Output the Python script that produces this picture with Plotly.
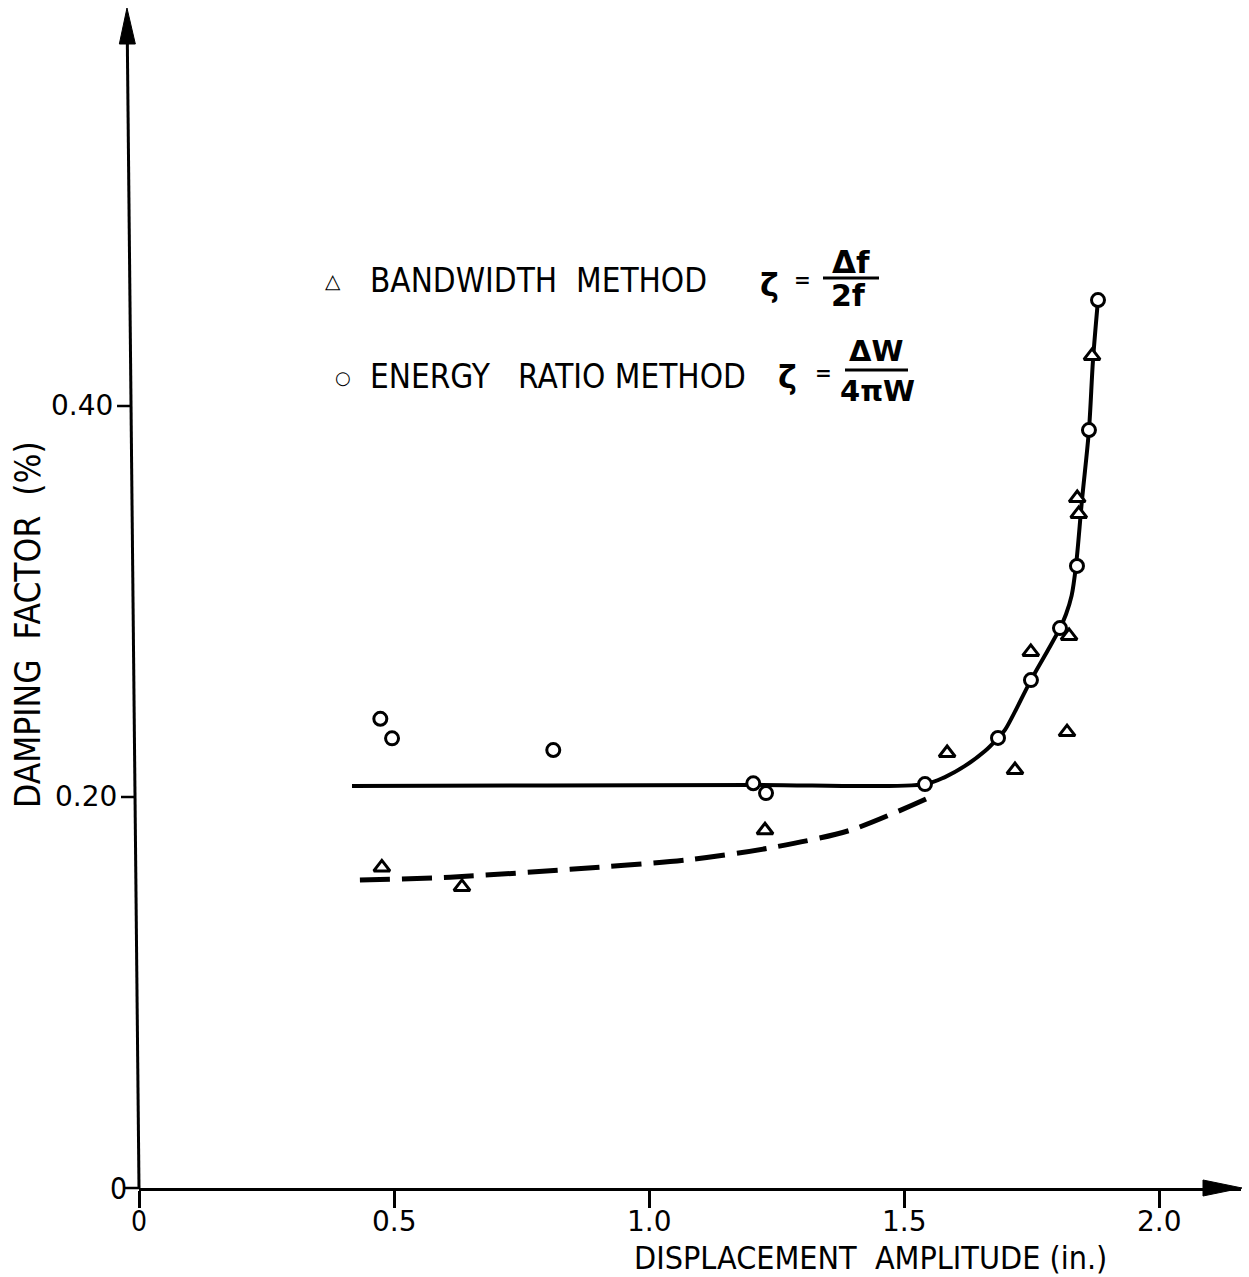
import plotly.graph_objects as go

# ---- data ----
bw_x = [0.476, 0.633, 1.227, 1.584, 1.717, 1.748, 1.819, 1.823, 1.839, 1.842, 1.868]
bw_y = [0.164, 0.154, 0.183, 0.2225, 0.2138, 0.2742, 0.2332, 0.2824, 0.3529, 0.3448, 0.4256]

er_x = [0.473, 0.496, 0.812, 1.204, 1.229, 1.5406, 1.6837, 1.7483, 1.8052, 1.8385, 1.8620, 1.8797]
er_y = [0.240, 0.230, 0.224, 0.207, 0.202, 0.2066, 0.2302, 0.2598, 0.2864, 0.3182, 0.3877, 0.4542]

solid_x = [0.4175, 0.80, 1.20, 1.5406, 1.5798, 1.6190, 1.6582, 1.6837, 1.6974, 1.7483, 1.7817,
           1.8052, 1.8170, 1.8280, 1.8365, 1.8483, 1.8620, 1.8699, 1.8797]
solid_y = [0.2056, 0.2059, 0.2062, 0.2066, 0.2102, 0.2159, 0.2235, 0.2302, 0.2343, 0.2598, 0.2752,
           0.2864, 0.2935, 0.3030, 0.3182, 0.3519, 0.3877, 0.4235, 0.4542]

dash_x = [0.433, 0.610, 0.845, 1.080, 1.237, 1.394, 1.551]
dash_y = [0.1575, 0.159, 0.163, 0.168, 0.174, 0.183, 0.200]

x_ticks = [0, 0.5, 1.0, 1.5, 2.0]
x_ticklabels = ["0", "0.5", "1.0", "1.5", "2.0"]
y_ticks = [0, 0.2, 0.4]
y_ticklabels = ["0", "0.20", "0.40"]

# ---- layout geometry (pixels) ----
W, H = 1249, 1277
L, R, T, B = 139, 8, 10, 89
XMAX = 2.16
YPX = 1955.0          # pixels per unit of damping factor
YMAX = (H - B - T) / YPX
XPX = (W - L - R) / XMAX

def paper_x(px):
    return (px - L) / (W - L - R)

def paper_y(py):
    return (H - B - py) / (H - B - T)

def y_to_px(v):
    return (H - B) - v * YPX

def x_to_px(v):
    return L + v * XPX

# the scanned y axis leans slightly to the left towards the top
def axis_px(py):
    return 139 - 12 * ((H - B) - py) / (H - B - T)

COND = "DejaVu Sans Condensed, DejaVu Sans, sans-serif"
ROUND = "DejaVu Sans, sans-serif"

fig = go.Figure()
fig.add_trace(go.Scatter(x=dash_x, y=dash_y, mode="lines",
                         line=dict(color="black", width=5, dash="30px,12px", shape="spline", smoothing=0.8),
                         hoverinfo="skip", showlegend=False))
fig.add_trace(go.Scatter(x=solid_x, y=solid_y, mode="lines",
                         line=dict(color="black", width=4, shape="spline", smoothing=0.9),
                         hoverinfo="skip", showlegend=False))
fig.add_trace(go.Scatter(x=bw_x, y=bw_y, mode="markers", name="BANDWIDTH METHOD",
                         marker=dict(symbol="triangle-up", size=14, color="white", line=dict(color="black", width=3)),
                         showlegend=False))
fig.add_trace(go.Scatter(x=er_x, y=er_y, mode="markers", name="ENERGY RATIO METHOD",
                         marker=dict(symbol="circle", size=13, color="white", line=dict(color="black", width=3)),
                         showlegend=False))

annotations = []
def txt(px, py, s, size=30, family=COND, xanchor="left", angle=0):
    annotations.append(dict(xref="paper", yref="paper", x=paper_x(px), y=paper_y(py), text=s, showarrow=False,
                            xanchor=xanchor, yanchor="middle", textangle=angle,
                            font=dict(family=family, size=size, color="black")))

# legend
txt(333, 281, "△", size=20, family=ROUND, xanchor="center")
txt(368, 280, "BANDWIDTH&nbsp;&nbsp;METHOD", size=33)
txt(769, 285, "<b>ζ</b>", size=32, family=ROUND, xanchor="center")
txt(802, 280, "<b>=</b>", size=20, family=ROUND, xanchor="center")
txt(851, 262, "<b>Δf</b>", size=31, family=ROUND, xanchor="center")
txt(848, 296, "<b>2f</b>", size=30, family=ROUND, xanchor="center")
txt(343, 377, "○", size=18, family=ROUND, xanchor="center")
txt(368, 376, "ENERGY&nbsp;&nbsp;&nbsp;RATIO METHOD", size=33)
txt(787, 377, "<b>ζ</b>", size=32, family=ROUND, xanchor="center")
txt(823, 373, "<b>=</b>", size=20, family=ROUND, xanchor="center")
txt(876, 351, "<b>ΔW</b>", size=29, family=ROUND, xanchor="center")
txt(877, 391, "<b>4πW</b>", size=29, family=ROUND, xanchor="center")

# axis titles
txt(28, 625, "DAMPING&nbsp;&nbsp;FACTOR&nbsp;&nbsp;(%)", size=35, xanchor="center", angle=-90)
txt(870, 1258, "DISPLACEMENT&nbsp;&nbsp;AMPLITUDE (in.)", size=32, xanchor="center")

# x tick labels
for v, lab in zip(x_ticks, x_ticklabels):
    txt(x_to_px(v), 1221, lab, size=28, family=COND if v == 0 else ROUND, xanchor="center")

shapes = [
    # fraction bars
    dict(type="line", xref="paper", yref="paper", x0=paper_x(823), x1=paper_x(879), y0=paper_y(278), y1=paper_y(278),
         line=dict(color="black", width=3)),
    dict(type="line", xref="paper", yref="paper", x0=paper_x(845), x1=paper_x(908), y0=paper_y(370), y1=paper_y(370),
         line=dict(color="black", width=3)),
    # y axis line (leaning) and arrowheads
    dict(type="line", xref="paper", yref="paper", x0=paper_x(axis_px(H - B)), x1=paper_x(axis_px(30)),
         y0=paper_y(H - B), y1=paper_y(30), line=dict(color="black", width=3)),
    dict(type="path", xref="paper", yref="paper",
         path=f"M {paper_x(axis_px(44) - 8)},{paper_y(44)} L {paper_x(axis_px(8))},{paper_y(8)} "
              f"L {paper_x(axis_px(44) + 8)},{paper_y(44)} Z",
         fillcolor="black", line=dict(color="black", width=1)),
    dict(type="path", xref="paper", yref="paper",
         path=f"M {paper_x(1203)},{paper_y(1180)} L {paper_x(1242)},{paper_y(1188)} L {paper_x(1203)},{paper_y(1196)} Z",
         fillcolor="black", line=dict(color="black", width=1)),
]

# y ticks and tick labels along the leaning axis
for v, lab in zip(y_ticks, y_ticklabels):
    py = y_to_px(v)
    ax = axis_px(py)
    shapes.append(dict(type="line", xref="paper", yref="paper", x0=paper_x(ax - 14), x1=paper_x(ax),
                       y0=paper_y(py), y1=paper_y(py), line=dict(color="black", width=2.5)))
    if v == 0:
        txt(ax - 10, py, lab, size=30, family=COND, xanchor="right")
    else:
        txt(ax - 16, py, lab, size=28, family=ROUND, xanchor="right")

fig.update_layout(
    width=W, height=H, margin=dict(l=L, r=R, t=T, b=B),
    paper_bgcolor="white", plot_bgcolor="white",
    annotations=annotations, shapes=shapes, showlegend=False,
    xaxis=dict(range=[0, XMAX], tickvals=x_ticks, ticks="outside", ticklen=17, tickwidth=2.5,
               tickcolor="black", showline=True, linecolor="black", linewidth=3, showgrid=False, zeroline=False,
               showticklabels=False),
    yaxis=dict(range=[0, YMAX], showline=False, ticks="", showgrid=False, zeroline=False, showticklabels=False),
)

fig.write_html("out.html")
